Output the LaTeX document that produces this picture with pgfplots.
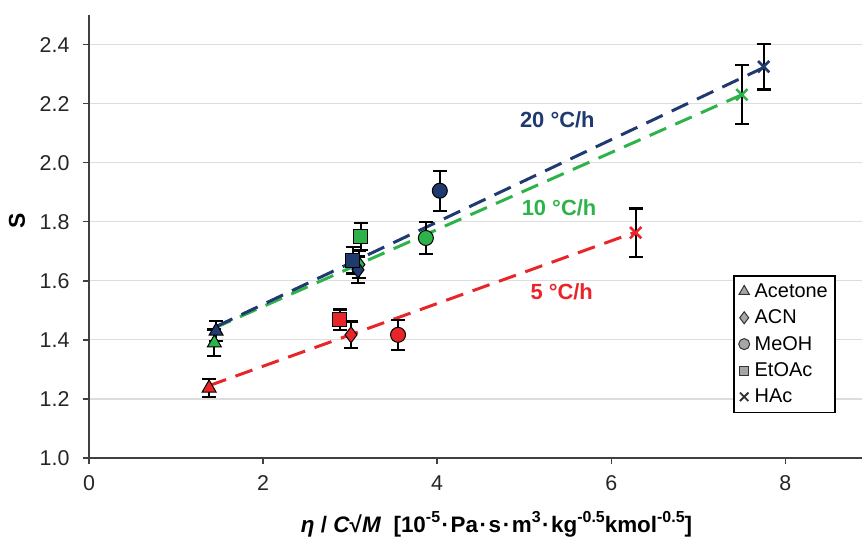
\documentclass[border=0pt]{standalone}
\usepackage{pgfplots}
\pgfplotsset{compat=1.18}
\usepackage{fontspec}
\setmainfont{Liberation Sans}
\definecolor{cblue}{HTML}{1F3A6E}
\definecolor{cgreen}{HTML}{2DB34A}
\definecolor{cred}{HTML}{E8262A}
\definecolor{gridgray}{HTML}{DDDDDD}
\definecolor{axgray}{HTML}{404040}
\newcommand{\supx}[1]{\raisebox{0.42em}{\fontsize{16}{16}\selectfont #1}}
\newcommand{\md}{\hspace{0.07em}·\hspace{0.07em}}
\begin{document}
\begin{tikzpicture}
\begin{axis}[
  scale only axis, width=773bp, height=443bp,
  xmin=0, xmax=8.88, ymin=1.0, ymax=2.5,
  axis lines=left, axis line style={-, axgray, line width=2pt},
  xtick={0,2,4,6,8}, ytick={1.0,1.2,...,2.4},
  ymajorgrids, grid style={gridgray, line width=1.2pt},
  tick style={axgray, line width=1.5pt}, tick align=outside, major tick length=6bp,
  yticklabel style={/pgf/number format/fixed, /pgf/number format/fixed zerofill, /pgf/number format/precision=1},
  yticklabel shift=10bp,
  xticklabel style={yshift=-8bp},
  /pgf/number format/assume math mode=true,
  ticklabel style={font=\fontsize{21.5}{23}\selectfont, text=black!85},
  ylabel={\textbf{S}}, ylabel style={font=\fontsize{23}{25}\selectfont, at={(rel axis cs:0,0.536)}, anchor=center, yshift=72bp},
  xlabel={\textbf{\textit{η} / \textit{C}√\textit{M}\ \ [10\supx{-5}\md Pa\md s\md m\supx{3}\md kg\supx{-0.5}kmol\supx{-0.5}]}},
  xlabel style={font=\fontsize{22.5}{24}\selectfont, at={(rel axis cs:0.5,0)}, anchor=base, yshift=-74bp, xshift=21bp},
  clip=false,
  legend cell align=left,
  legend style={at={(0.833,0.413)}, anchor=north west, draw=black, line width=1.6pt,
    font=\fontsize{20}{22}\selectfont, row sep=7bp, inner xsep=5bp, inner ysep=6bp,
    /tikz/every odd column/.append style={column sep=3bp}},
  err/.style={only marks, forget plot,
     error bars/y dir=both, error bars/y explicit,
     error bars/error bar style={black, line width=2.2pt},
     error bars/error mark options={black, rotate=90, mark size=7bp, line width=2.2pt}},
]
% legend images
\addlegendimage{only marks, mark=triangle*, mark size=6bp, mark options={fill=gray!70, draw=black!80, line width=1pt}}
\addlegendentry{Acetone}
\addlegendimage{only marks, mark=diamond*, mark size=6bp, mark options={fill=gray!70, draw=black!80, line width=1pt}}
\addlegendentry{ACN}
\addlegendimage{only marks, mark=*, mark size=5.5bp, mark options={fill=gray!70, draw=black!80, line width=1pt}}
\addlegendentry{MeOH}
\addlegendimage{only marks, mark=square*, mark size=4.5bp, mark options={fill=gray!70, draw=black!80, line width=1pt}}
\addlegendentry{EtOAc}
\addlegendimage{only marks, mark=x, mark size=6bp, mark options={draw=black!80, line width=1.8pt}}
\addlegendentry{HAc}
% fit lines
\addplot[cred, line width=3pt, dash pattern=on 18bp off 10bp, forget plot] coordinates {(1.38,1.245) (6.28,1.765)};
\addplot[cgreen, line width=3pt, dash pattern=on 18bp off 10bp, forget plot] coordinates {(1.44,1.44) (7.50,2.23)};
\addplot[cblue, line width=3pt, dash pattern=on 18bp off 10bp, forget plot] coordinates {(1.46,1.445) (7.75,2.322)};
% red 5 C/h
\addplot[err, mark=triangle*, mark size=8bp, mark options={solid, draw=black, line width=1pt, fill=cred}] coordinates {(1.38,1.237) +- (0,0.03)};
\addplot[err, mark=square*, mark size=7bp, mark options={solid, draw=black, line width=1pt, fill=cred}] coordinates {(2.88,1.468) +- (0,0.035)};
\addplot[err, mark=diamond*, mark size=8bp, mark options={solid, draw=black, line width=1pt, fill=cred}] coordinates {(3.01,1.417) +- (0,0.045)};
\addplot[err, mark=*, mark size=7.5bp, mark options={solid, draw=black, line width=1pt, fill=cred}] coordinates {(3.55,1.417) +- (0,0.05)};
\addplot[err, mark=x, mark size=8bp, mark options={solid, draw=cred, line width=2.6pt}] coordinates {(6.28,1.763) +- (0,0.082)};
% green 10 C/h
\addplot[err, mark=triangle*, mark size=8bp, mark options={solid, draw=black, line width=1pt, fill=cgreen}] coordinates {(1.44,1.39) +- (0,0.045)};
\addplot[err, mark=diamond*, mark size=8bp, mark options={solid, draw=black, line width=1pt, fill=cgreen}] coordinates {(3.10,1.655) +- (0,0.045)};
\addplot[err, mark=*, mark size=7.5bp, mark options={solid, draw=black, line width=1pt, fill=cgreen}] coordinates {(3.87,1.745) +- (0,0.055)};
\addplot[err, mark=square*, mark size=7bp, mark options={solid, draw=black, line width=1pt, fill=cgreen}] coordinates {(3.12,1.75) +- (0,0.045)};
\addplot[err, mark=x, mark size=8bp, mark options={solid, draw=cgreen, line width=2.6pt}] coordinates {(7.50,2.23) +- (0,0.1)};
% blue 20 C/h
\addplot[err, mark=triangle*, mark size=8bp, mark options={solid, draw=black, line width=1pt, fill=cblue}] coordinates {(1.46,1.43) +- (0,0.035)};
\addplot[err, mark=diamond*, mark size=8bp, mark options={solid, draw=black, line width=1pt, fill=cblue}] coordinates {(3.09,1.637) +- (0,0.045)};
\addplot[err, mark=square*, mark size=7bp, mark options={solid, draw=black, line width=1pt, fill=cblue}] coordinates {(3.03,1.67) +- (0,0.045)};
\addplot[err, mark=*, mark size=7.5bp, mark options={solid, draw=black, line width=1pt, fill=cblue}] coordinates {(4.03,1.905) +- (0,0.068)};
\addplot[err, mark=x, mark size=8bp, mark options={solid, draw=cblue, line width=2.6pt}] coordinates {(7.75,2.325) +- (0,0.077)};
% labels
\node[font=\bfseries\fontsize{22}{24}\selectfont, text=cblue] at (axis cs:5.38,2.146) {20 °C/h};
\node[font=\bfseries\fontsize{22}{24}\selectfont, text=cgreen] at (axis cs:5.40,1.847) {10 °C/h};
\node[font=\bfseries\fontsize{22}{24}\selectfont, text=cred] at (axis cs:5.43,1.563) {5 °C/h};
\end{axis}
\pgfresetboundingbox
\path ([shift={(-89bp,-79bp)}]current axis.south west) rectangle ([shift={(0bp,15bp)}]current axis.north east);
\end{tikzpicture}
\end{document}
